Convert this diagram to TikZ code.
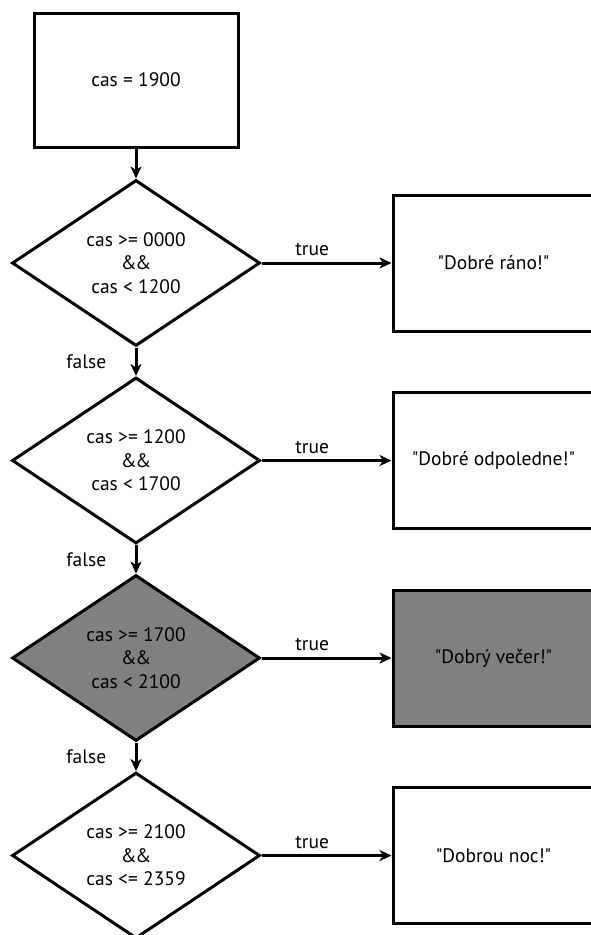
\documentclass[tikz,border=0pt]{standalone}
\usepackage{fontspec}
\setmainfont{PT Sans}[Ligatures=TeXOff]
\usetikzlibrary{shapes.geometric,arrows.meta}
\newcommand{\andand}{\&\kern-1.5pt\&}
\begin{document}
\begin{tikzpicture}[x=1pt,y=-1pt,
  txt/.style={font=\fontsize{19.5}{23.5}\selectfont},
  base/.style={txt, draw=black, line width=3pt, align=center, inner sep=0pt},
  procbox/.style={base, rectangle, minimum height=136pt},
  decision/.style={base, diamond, minimum width=248pt, minimum height=166pt},
  hot/.style={fill={rgb,255:red,128;green,128;blue,128}},
  conn/.style={line width=3pt, -{Stealth[length=12pt,width=11pt,inset=3.5pt]}},
  lab/.style={txt}
]
\useasboundingbox (0,0) rectangle (591,935);
\clip (0,0) rectangle (591,935);

\node[procbox, minimum width=204pt, minimum height=134pt] (start) at (136,80) {cas = 1900};

\node[decision] (d1) at (136,263) {cas >= 0000\\\andand\\cas < 1200};
\node[decision] (d2) at (136,460.5) {cas >= 1200\\\andand\\cas < 1700};
\node[decision, hot] (d3) at (136,658) {cas >= 1700\\\andand\\cas < 2100};
\node[decision] (d4) at (136,855.5) {cas >= 2100\\\andand\\cas <= 2359};

\node[procbox, minimum width=201pt] (o1) at (493.5,263) {"Dobré ráno!"};
\node[procbox, minimum width=201pt] (o2) at (493.5,460.5) {"Dobré odpoledne!"};
\node[procbox, minimum width=201pt, hot] (o3) at (493.5,658) {"Dobrý večer!"};
\node[procbox, minimum width=201pt] (o4) at (493.5,855.5) {"Dobrou noc!"};

\draw[conn] (start) -- (d1);
\draw[conn] (d1) -- node[lab, left=25pt] {false} (d2);
\draw[conn] (d2) -- node[lab, left=25pt] {false} (d3);
\draw[conn] (d3) -- node[lab, left=25pt] {false} (d4);

\draw[conn] (d1) -- node[lab, pos=0.39, above=2pt] {true} (o1);
\draw[conn] (d2) -- node[lab, pos=0.39, above=2pt] {true} (o2);
\draw[conn] (d3) -- node[lab, pos=0.39, above=2pt] {true} (o3);
\draw[conn] (d4) -- node[lab, pos=0.39, above=2pt] {true} (o4);
\end{tikzpicture}
\end{document}
